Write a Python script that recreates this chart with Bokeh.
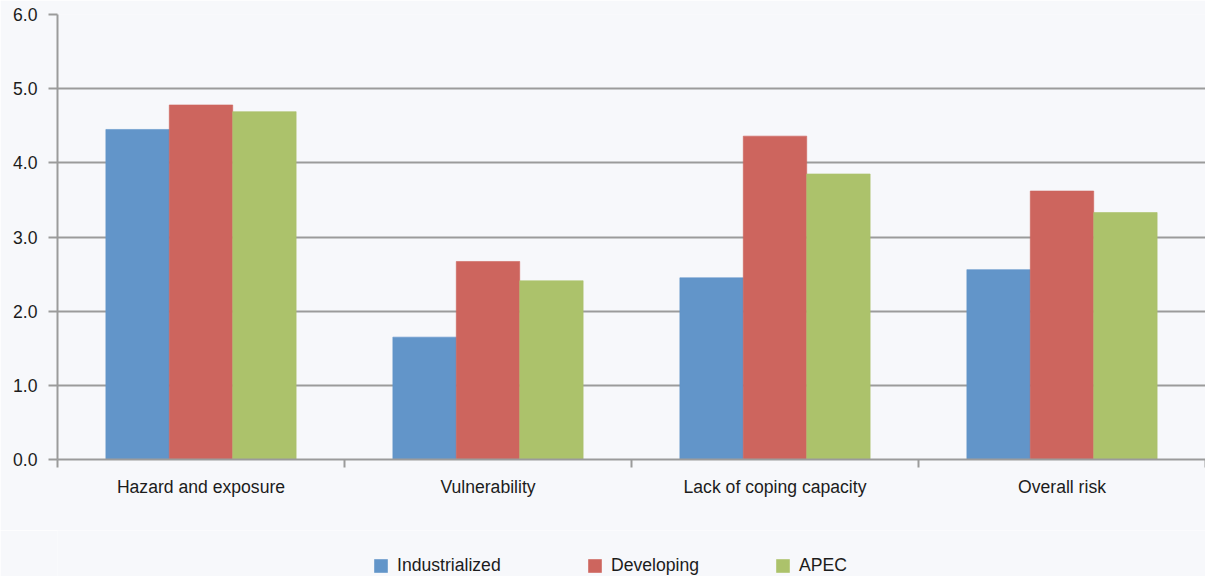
from bokeh.plotting import figure
from bokeh.layouts import column
from bokeh.models import (Range1d, FixedTicker, NumeralTickFormatter, Legend, LegendItem)
from bokeh.embed import file_html
from bokeh.resources import INLINE

categories = ["Hazard and exposure", "Vulnerability", "Lack of coping capacity", "Overall risk"]
series_names = ["Industrialized", "Developing", "APEC"]
industrialized = [4.45, 1.65, 2.45, 2.56]
developing = [4.78, 2.67, 4.36, 3.62]
apec = [4.69, 2.41, 3.85, 3.33]
y_ticks = [0, 1, 2, 3, 4, 5, 6]

colors = ["#6295c9", "#cd655e", "#acc26b"]
bg = "#f7f8fb"
font = "Liberation Sans"
fsize = "17.6px"
txt = "#1c1c1c"
grey = "#9b9b9b"

W = 1205
H_MAIN = 530
H_LEG = 46
LEFT = 57

p = figure(width=W, height=H_MAIN, output_backend="svg", toolbar_location=None,
           x_range=Range1d(0, len(categories)), y_range=Range1d(0, 6),
           min_border_left=LEFT, min_border_right=0, min_border_top=14, min_border_bottom=71)
p.background_fill_color = bg
p.border_fill_color = bg
p.outline_line_color = None

bw = 0.221
offsets = [-bw, 0.0, bw]
series = [industrialized, developing, apec]
for vals, off, col in zip(series, offsets, colors):
    xs = [i + 0.5 + off for i in range(len(categories))]
    p.vbar(x=xs, top=vals, width=bw, fill_color=col, line_color=col, line_alpha=0.6, line_width=1)

# y axis
p.yaxis.ticker = FixedTicker(ticks=y_ticks)
p.yaxis.formatter = NumeralTickFormatter(format="0.0")
p.yaxis.axis_line_color = grey
p.yaxis.axis_line_width = 2
p.yaxis.major_tick_line_color = grey
p.yaxis.major_tick_line_width = 2
p.yaxis.major_tick_in = 0
p.yaxis.major_tick_out = 9
p.yaxis.minor_tick_line_color = None
p.yaxis.major_label_standoff = 11
p.yaxis.major_label_text_font = font
p.yaxis.major_label_text_font_size = fsize
p.yaxis.major_label_text_color = txt

# x axis: labels at centres, ticks at category boundaries
centers = [i + 0.5 for i in range(len(categories))]
bounds = list(range(len(categories) + 1))
p.xaxis.ticker = FixedTicker(ticks=centers, minor_ticks=bounds)
p.xaxis.major_label_overrides = {c: lab for c, lab in zip(centers, categories)}
p.xaxis.axis_line_color = grey
p.xaxis.axis_line_width = 2
p.xaxis.major_tick_line_color = None
p.xaxis.major_tick_out = 0
p.xaxis.major_tick_in = 0
p.xaxis.minor_tick_line_color = grey
p.xaxis.minor_tick_line_width = 2
p.xaxis.minor_tick_out = 8
p.xaxis.minor_tick_in = 0
p.xaxis.major_label_standoff = 9
p.xaxis.major_label_text_font = font
p.xaxis.major_label_text_font_size = fsize
p.xaxis.major_label_text_color = txt

p.xgrid.grid_line_color = None
p.ygrid.ticker = FixedTicker(ticks=y_ticks)
p.ygrid.grid_line_color = grey
p.ygrid.grid_line_width = 2

# legend strip
lg = figure(width=W, height=H_LEG, output_backend="svg", toolbar_location=None,
            x_axis_location=None, y_axis_location=None,
            x_range=Range1d(0, len(categories)), y_range=Range1d(0, 1),
            min_border_left=LEFT, min_border_right=0, min_border_top=0, min_border_bottom=0)
lg.background_fill_color = bg
lg.border_fill_color = bg
lg.outline_line_color = None
lg.grid.visible = False

legend_x = [372, 586, 774]
for name, vals, col, lx in zip(series_names, series, colors, legend_x):
    xs = [i + 0.5 for i in range(len(categories))]
    # zero-size proxy bars that only feed the legend swatch
    r = lg.vbar(x=xs, top=vals, bottom=vals, width=0.0, fill_color=col, line_color=col, line_alpha=0.0)
    leg = Legend(items=[LegendItem(label=name, renderers=[r])], location=(lx - LEFT, 0))
    leg.background_fill_alpha = 0
    leg.border_line_color = None
    leg.glyph_width = 17
    leg.glyph_height = 17
    leg.label_standoff = 8
    leg.padding = 0
    leg.margin = 0
    leg.label_text_font = font
    leg.label_text_font_size = fsize
    leg.label_text_color = txt
    leg.label_height = 17
    lg.add_layout(leg, "center")

layout = column(p, lg, spacing=0)
open("out.html", "w").write(file_html(layout, INLINE))
